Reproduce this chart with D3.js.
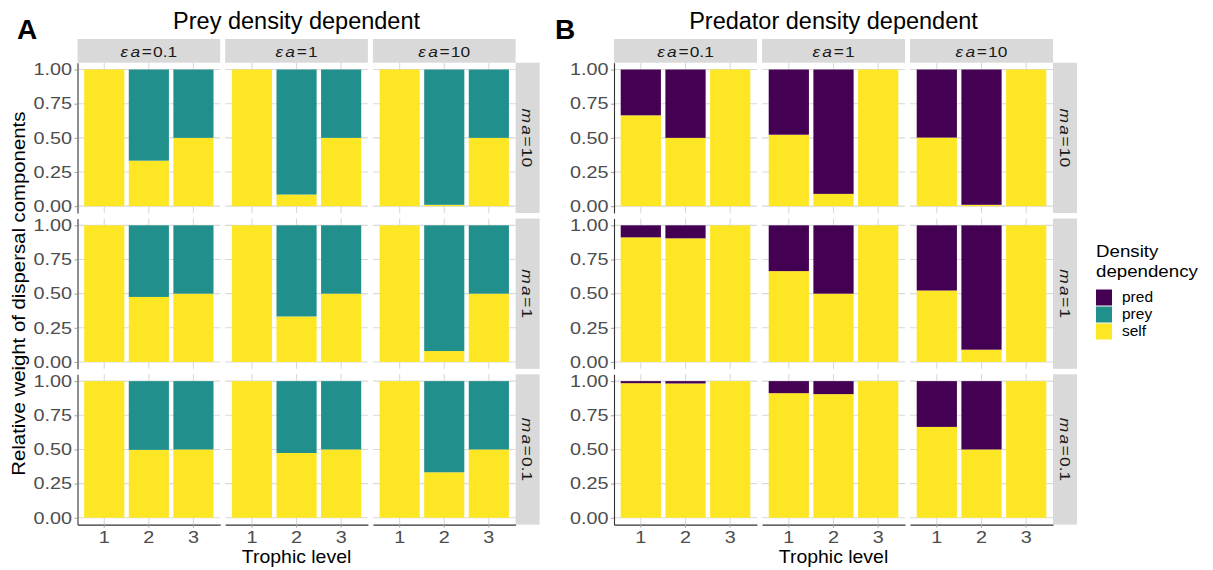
<!DOCTYPE html>
<html>
<head>
<meta charset="utf-8">
<script src="https://cdn.jsdelivr.net/npm/d3@7"></script>
<style>
  body { margin: 0; background: #ffffff; }
  svg { display: block; font-family: "Liberation Sans", Arial, Helvetica, sans-serif; }
</style>
</head>
<body>
<svg id="chart" width="1213" height="570"></svg>
<script>
// ---- data -------------------------------------------------------------
const trophicLevels = ["1", "2", "3"];
const epsLevels = ["0.1", "1", "10"];      // facet columns (εa)
const maLevels = ["10", "1", "0.1"];       // facet rows (ma), top to bottom
const components = ["pred", "prey", "self"];
const componentColors = ["#440154", "#21908C", "#FDE725"];
const yTicks = [0, 0.25, 0.5, 0.75, 1];

// Prey density dependent dispersal: [ma row][εa column][trophic level]
const preySelf = [
  [[1, 0.333, 0.5], [1, 0.085, 0.5], [1, 0.010, 0.5]],
  [[1, 0.476, 0.5], [1, 0.333, 0.5], [1, 0.080, 0.5]],
  [[1, 0.497, 0.5], [1, 0.474, 0.5], [1, 0.333, 0.5]]
];
const preyPrey = [
  [[0, 0.667, 0.5], [0, 0.915, 0.5], [0, 0.990, 0.5]],
  [[0, 0.524, 0.5], [0, 0.667, 0.5], [0, 0.920, 0.5]],
  [[0, 0.503, 0.5], [0, 0.526, 0.5], [0, 0.667, 0.5]]
];

// Predator density dependent dispersal: [ma row][εa column][trophic level]
const predSelf = [
  [[0.665, 0.5, 1], [0.523, 0.090, 1], [0.502, 0.010, 1]],
  [[0.912, 0.905, 1], [0.665, 0.5, 1], [0.523, 0.090, 1]],
  [[0.985, 0.983, 1], [0.912, 0.905, 1], [0.665, 0.5, 1]]
];
const predPred = [
  [[0.335, 0.5, 0], [0.477, 0.910, 0], [0.498, 0.990, 0]],
  [[0.088, 0.095, 0], [0.335, 0.5, 0], [0.477, 0.910, 0]],
  [[0.015, 0.017, 0], [0.088, 0.095, 0], [0.335, 0.5, 0]]
];

// ---- helpers ----------------------------------------------------------
const svg = d3.select("#chart");
const color = d3.scaleOrdinal(components, componentColors);

const rowTop0 = 62.7, rowH = 150.3, rowGap = 5.5;
const stripTop = 39, stripW = 24, colGap = 5;
const gridColor = "#d9d9d9", stripFill = "#d9d9d9";

function rowTop(r) { return rowTop0 + r * (rowH + rowGap); }
function rowScale(r) {
  const top = rowTop(r);
  return d3.scaleLinear().domain([-0.05, 1.05]).range([top + rowH, top]);
}

// text placed with a translate/rotate and a slight widening along the baseline
function label(parent, x, y, str, o = {}) {
  const t = parent.append("text")
    .attr("transform", `translate(${x},${y}) rotate(${o.rotate || 0}) scale(${o.sx || 1},1)`)
    .attr("text-anchor", o.anchor || "start")
    .attr("font-size", o.size || 14)
    .attr("font-weight", o.weight || "normal")
    .attr("fill", o.fill || "#000");
  if (str !== null) t.text(str);
  return t;
}

function facetLabel(parent, x, y, sym, val, o) {
  const t = label(parent, x, y, null, o);
  t.append("tspan").attr("font-style", "italic").text(sym[0]);
  t.append("tspan").attr("font-style", "italic").attr("dx", 2).text(sym[1]);
  t.append("tspan").attr("dx", 1.5).text("=");
  t.append("tspan").attr("dx", 1).text(val);
  return t;
}

function buildTable(selfArr, otherArr, otherKey) {
  const rows = [];
  maLevels.forEach((ma, r) => epsLevels.forEach((eps, c) => trophicLevels.forEach((lvl, i) => {
    const rec = { r, c, level: lvl, self: selfArr[r][c][i], prey: 0, pred: 0 };
    rec[otherKey] = otherArr[r][c][i];
    rows.push(rec);
  })));
  return rows;
}

function styleAxis(ax, size, sx) {
  ax.select(".domain").attr("stroke", "#333333").attr("stroke-width", 1.1);
  ax.selectAll(".tick line").attr("stroke", "#a6a6a6").attr("stroke-width", 1.1);
  ax.selectAll(".tick text")
    .attr("font-size", size)
    .attr("font-family", "Liberation Sans, Arial, sans-serif")
    .attr("fill", "#4d4d4d")
    .attr("transform", function () {
      const tx = +d3.select(this).attr("x") || 0;
      return `translate(${tx},0) scale(${sx},1) translate(${-tx},0)`;
    });
}

function drawBlock(cfg) {
  const g = svg.append("g");
  const table = cfg.table;
  const colX = c => cfg.x0 + c * (cfg.colW + colGap);
  const panelRight = colX(2) + cfg.colW;
  const stack = d3.stack().keys(["self", "prey", "pred"]);

  epsLevels.forEach((eps, c) => {
    const x = d3.scaleBand().domain(trophicLevels)
      .range([colX(c), colX(c) + cfg.colW]).paddingInner(0.1).paddingOuter(0.15);

    // top strip
    g.append("rect").attr("x", colX(c)).attr("y", stripTop)
      .attr("width", cfg.colW).attr("height", rowTop0 - stripTop).attr("fill", stripFill);
    facetLabel(g, colX(c) + cfg.colW / 2, stripTop + 17.5, "εa", eps,
      { size: 15.5, anchor: "middle", fill: "#1a1a1a", sx: 1.12 });

    maLevels.forEach((ma, r) => {
      const y = rowScale(r);
      const top = rowTop(r), bottom = top + rowH;
      const pg = g.append("g");

      // grid
      pg.selectAll("line.gy").data(yTicks).join("line")
        .attr("x1", colX(c)).attr("x2", colX(c) + cfg.colW)
        .attr("y1", d => y(d)).attr("y2", d => y(d))
        .attr("stroke", gridColor).attr("stroke-width", 1.1);
      pg.selectAll("line.gx").data(trophicLevels).join("line")
        .attr("x1", d => x(d) + x.bandwidth() / 2).attr("x2", d => x(d) + x.bandwidth() / 2)
        .attr("y1", top).attr("y2", bottom)
        .attr("stroke", gridColor).attr("stroke-width", 1.1);

      // stacked bars
      const cell = table.filter(d => d.r === r && d.c === c);
      const series = stack(cell);
      series.forEach(s => {
        pg.selectAll(null).data(s.filter(d => d[1] - d[0] > 0)).join("rect")
          .attr("x", d => x(d.data.level))
          .attr("width", x.bandwidth())
          .attr("y", d => y(d[1]))
          .attr("height", d => y(d[0]) - y(d[1]))
          .attr("fill", color(s.key));
      });

      // y axis on first column
      if (c === 0) {
        const ax = g.append("g").attr("transform", `translate(${colX(0)},0)`)
          .call(d3.axisLeft(y).tickValues(yTicks).tickFormat(d3.format(".2f"))
            .tickSize(3).tickSizeOuter(0).tickPadding(2.5));
        styleAxis(ax, 16.5, 1.2);
      }
      // right strip on last column
      if (c === 2) {
        g.append("rect").attr("x", panelRight).attr("y", top)
          .attr("width", stripW).attr("height", rowH).attr("fill", stripFill);
        facetLabel(g, panelRight + stripW / 2 - 5.5, top + rowH / 2, "ma", ma,
          { size: 15.5, anchor: "middle", fill: "#1a1a1a", rotate: 90, sx: 1.12 });
      }
    });

    // x axis on bottom row
    const ax = g.append("g").attr("transform", `translate(0,${rowTop(2) + rowH})`)
      .call(d3.axisBottom(x).tickSize(3).tickSizeOuter(0).tickPadding(4));
    styleAxis(ax, 16.5, 1.2);
  });

  const midX = (cfg.x0 + panelRight) / 2;
  label(g, midX, 28.5, cfg.title, { size: 23.5, anchor: "middle" });
  label(g, cfg.letterX, 38.5, cfg.letter, { size: 28, weight: "bold" });
  label(g, midX, 563, "Trophic level", { size: 18, anchor: "middle", sx: 1.08 });
}

// ---- panels ----------------------------------------------------------
drawBlock({
  table: buildTable(preySelf, preyPrey, "prey"),
  x0: 77.5, colW: 142.7,
  title: "Prey density dependent", letter: "A", letterX: 17
});
drawBlock({
  table: buildTable(predSelf, predPred, "pred"),
  x0: 614, colW: 143,
  title: "Predator density dependent", letter: "B", letterX: 555
});

// shared y-axis title
label(svg, 25, rowTop0 + (3 * rowH + 2 * rowGap) / 2, "Relative weight of dispersal components",
  { size: 18.5, anchor: "middle", rotate: -90, sx: 1.1 });

// ---- legend -----------------------------------------------------------
const lg = svg.append("g").attr("transform", "translate(1096,0)");
label(lg, 0, 256.5, "Density", { size: 17, sx: 1.1 });
label(lg, 0, 276.5, "dependency", { size: 17, sx: 1.1 });
lg.selectAll("rect").data(components).join("rect")
  .attr("x", 0).attr("y", (d, i) => 289.5 + i * 17)
  .attr("width", 16).attr("height", 16)
  .attr("fill", d => color(d));
components.forEach((d, i) => {
  label(lg, 26, 289.5 + i * 17 + 12.5, d, { size: 14.5, sx: 1.07 });
});
</script>
</body>
</html>
